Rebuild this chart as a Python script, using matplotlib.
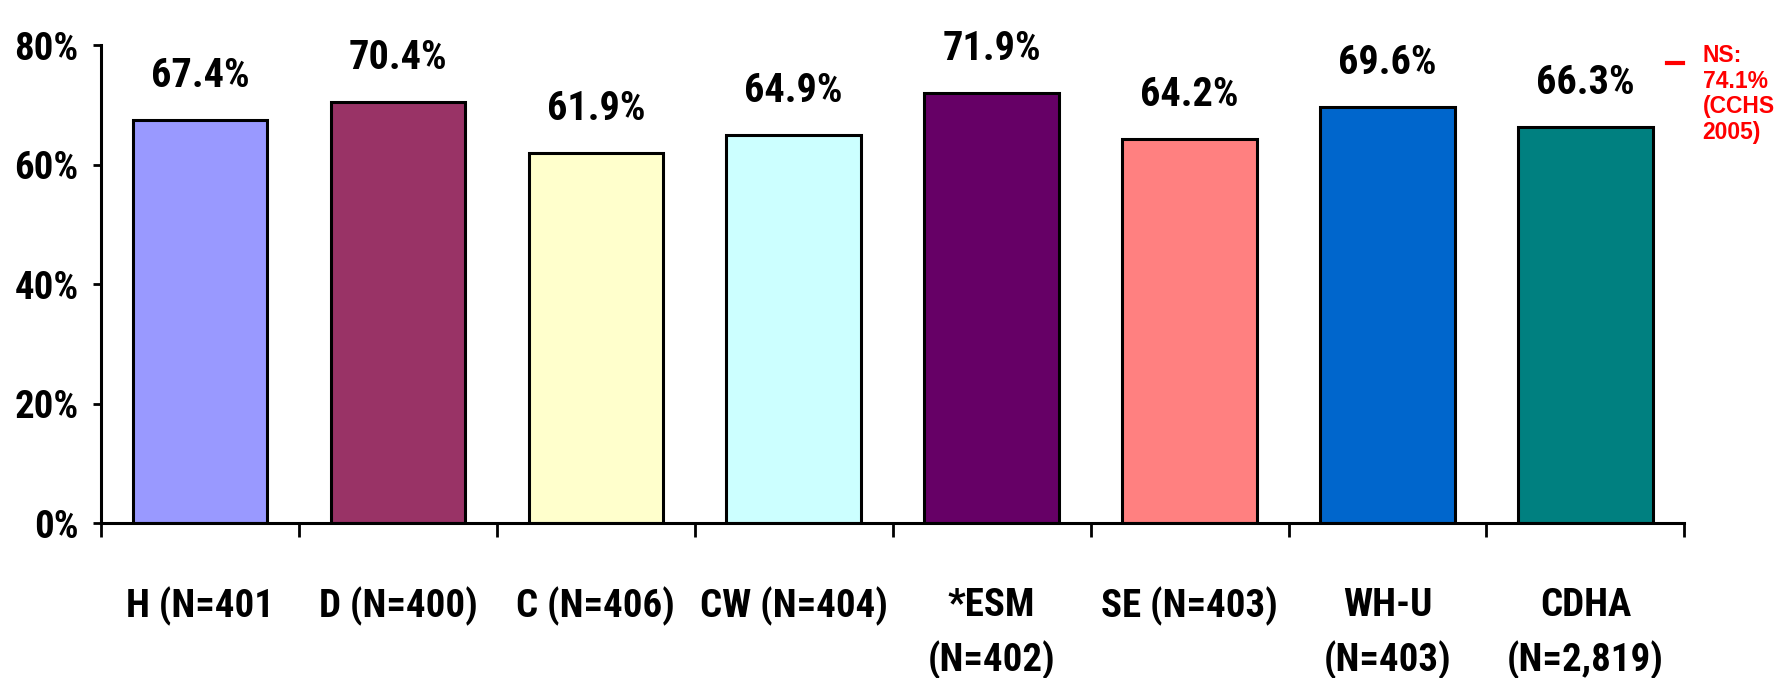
import matplotlib.pyplot as plt
from matplotlib.lines import Line2D
from matplotlib.ticker import FuncFormatter

# share of respondents per area, with sample sizes
areas = ["H (N=401", "D (N=400)", "C (N=406)", "CW (N=404)",
         "*ESM\n(N=402)", "SE (N=403)", "WH-U\n(N=403)", "CDHA\n(N=2,819)"]
values = [67.4, 70.4, 61.9, 64.9, 71.9, 64.2, 69.6, 66.3]
colors = ["#9999FF", "#993366", "#FFFFCC", "#CCFFFF",
          "#660066", "#FF8080", "#0066CC", "#008080"]
yticks = [0, 20, 40, 60, 80]
ns_note = "NS:\n74.1%\n(CCHS\n2005)"

narrow = ["Roboto Condensed", "Liberation Sans", "DejaVu Sans"]
plt.rcParams["font.family"] = narrow
plt.rcParams["font.weight"] = "bold"

fig = plt.figure(figsize=(17.82, 6.78), dpi=100)
ax = fig.add_axes([0.0567, 0.2286, 0.8885, 0.705])

x = list(range(len(values)))
ax.bar(x, values, width=0.68, color=colors, edgecolor="black", linewidth=2.2, zorder=2)

for xi, v in zip(x, values):
    ax.annotate(f"{v:.1f}%", (xi, v), xytext=(0, 24), textcoords="offset points",
                ha="center", va="baseline", fontsize=29, fontweight="bold")

ax.set_xlim(-0.5, len(values) - 0.5)
ax.set_ylim(0, 80)
ax.set_yticks(yticks)
ax.yaxis.set_major_formatter(FuncFormatter(lambda v, p: f"{v:.0f}%"))

# labels centred on the bars, tick marks on the category boundaries
ax.set_xticks(x)
ax.set_xticklabels(areas, fontsize=28, fontweight="bold", linespacing=1.55)
ax.set_xticks([i - 0.5 for i in range(len(values) + 1)], minor=True)
ax.tick_params(axis="x", which="major", length=0, pad=46)
ax.tick_params(axis="x", which="minor", length=10, width=2, direction="out")
ax.tick_params(axis="y", length=6, width=2, direction="out", pad=10, labelsize=28)
for lab in ax.get_yticklabels():
    lab.set_fontweight("bold")

for side in ("top", "right"):
    ax.spines[side].set_visible(False)
for side in ("left", "bottom"):
    ax.spines[side].set_linewidth(2.2)

# national comparison note at the right margin
fig.add_artist(Line2D([0.9355, 0.9445], [0.907, 0.907], transform=fig.transFigure,
                      color="red", linewidth=3))
fig.text(0.9555, 0.935, ns_note, color="red", fontsize=16.5, fontweight="bold",
         ha="left", va="top", linespacing=1.15, family=["Liberation Sans", "DejaVu Sans"])

fig.savefig("out.png", dpi=100)
